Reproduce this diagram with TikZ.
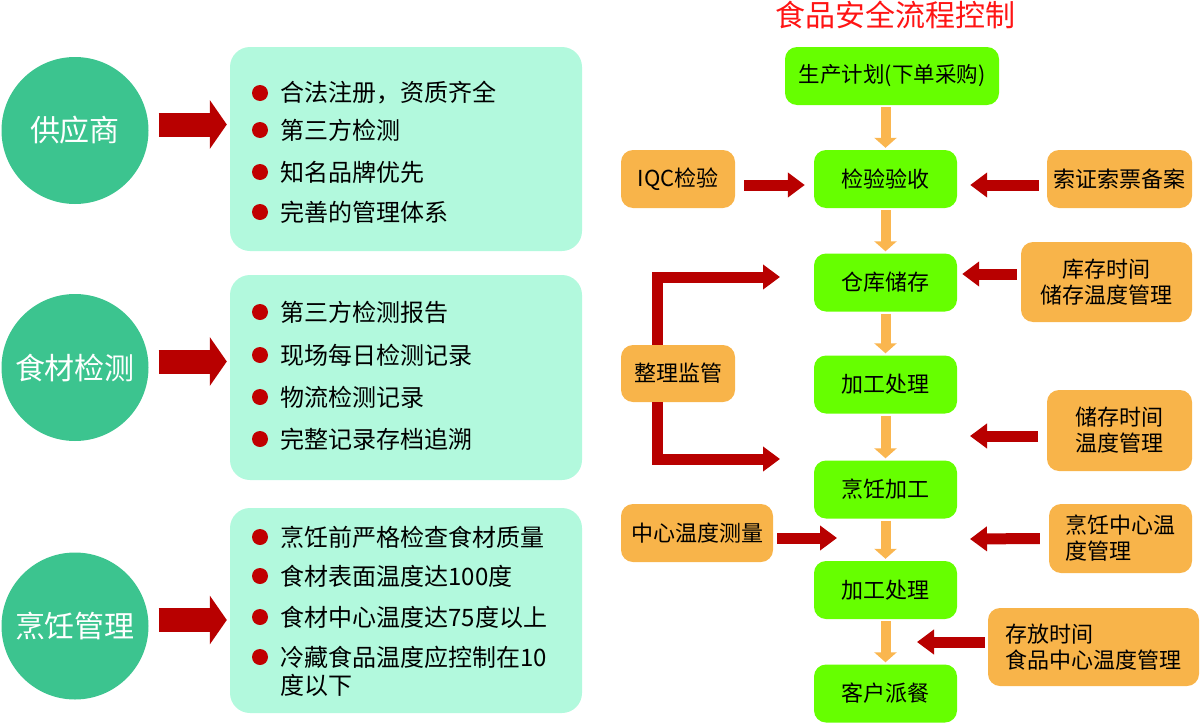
\documentclass[tikz,border=0pt]{standalone}
\usepackage{fontspec}
\setmainfont{Noto Sans CJK SC}
\usetikzlibrary{positioning}
\usetikzlibrary{arrows.meta}
\usetikzlibrary{calc}
\definecolor{topicgreen}{HTML}{3CC48F}
\definecolor{mint}{HTML}{B2F9DD}
\definecolor{dotred}{HTML}{C00000}
\definecolor{darkred}{HTML}{B80000}
\definecolor{stepgreen}{HTML}{66FF00}
\definecolor{sideorange}{HTML}{F8B44A}
\definecolor{floworange}{HTML}{FAB64F}
\definecolor{titlered}{HTML}{FF1414}
\tikzstyle{topic}=[circle,fill=topicgreen,minimum size=147pt,inner sep=0pt,text=white,font=\fontsize{30pt}{34pt}\selectfont]
\tikzstyle{listbox}=[rectangle,rounded corners=20pt,fill=mint,minimum width=352pt,inner sep=0pt]
\tikzstyle{dot}=[circle,fill=dotred,minimum size=16pt,inner sep=0pt]
\tikzstyle{item}=[inner sep=0pt,font=\fontsize{24pt}{28pt}\selectfont]
\tikzstyle{stepbox}=[rectangle,rounded corners=12pt,fill=stepgreen,minimum width=143pt,minimum height=58pt,inner sep=0pt,font=\fontsize{22pt}{26pt}\selectfont]
\tikzstyle{sidebox}=[rectangle,rounded corners=12pt,fill=sideorange,minimum height=58pt,inner sep=0pt,font=\fontsize{22pt}{26pt}\selectfont]
\tikzstyle{flow} = [draw=floworange,line width=10pt,-{Triangle[width=22pt,length=10pt]}]
\tikzstyle{feed} = [draw=darkred,line width=11pt,-{Triangle[width=24pt,length=17pt]}]
\tikzstyle{bigarrow} = [draw=darkred,line width=24pt,-{Triangle[width=48pt,length=17pt]}]

\begin{document}
\begin{tikzpicture}[x=1pt,y=-1pt]
    \useasboundingbox (0,0) rectangle (1200,723);
    % left half: topics and their lists
    \foreach \pos/\name/\label in {{(75,130.5)/sup/供应商}, {(75,367.5)/mat/食材检测}, {(75,626)/cookm/烹饪管理}}
        \node[topic] (\name) at \pos {\label};

    \node[listbox, minimum height=204pt] (boxA) at (406,149) {};
    \node[listbox, minimum height=205pt] (boxB) at (406,377.5) {};
    \node[listbox, minimum height=205pt] (boxC) at (406,610.5) {};

    \foreach \c/\b in {sup/boxA, mat/boxB, cookm/boxC}
        \draw[bigarrow] ([xshift=10pt,yshift=6pt]\c.east) -- ([xshift=-3pt,yshift=6pt]\c.east -| \b.west);

    \foreach \y/\name/\txt in {93/a1/合法注册，资质齐全, 130/a2/第三方检测, 172/a3/知名品牌优先, 212/a4/完善的管理体系,
        312/b1/第三方检测报告, 355/b2/现场每日检测记录, 397/b3/物流检测记录, 439/b4/完整记录存档追溯,
        537/c1/烹饪前严格检查食材质量, 576/c2/食材表面温度达100度, 617/c3/食材中心温度达75度以上, 657/c4/冷藏食品温度应控制在10} {
        \node[dot] (d\name) at (260,\y) {};
        \node[item, right=12pt of d\name] (\name) {\txt};
    }
    \node[item, anchor=west] (c4b) at ([yshift=-28pt]c4.west) {度以下};

    % right half: the flow
    \node[text=titlered, font=\fontsize{30pt}{34pt}\selectfont] (title) at (895,15) {食品安全流程控制};

    \node[stepbox, minimum width=214pt, font=\fontsize{21.5pt}{25pt}\selectfont] (plan) at (892,76) {生产计划(下单采购)};
    \foreach \pos/\name/\label in {{(885.5,179)/check/检验验收}, {(885.5,282.5)/store/仓库储存}, {(885.5,384.5)/proc1/加工处理},
        {(885.5,489.5)/cook2/烹饪加工}, {(885.5,590)/proc2/加工处理}, {(885.5,693.5)/serve/客户派餐}}
        \node[stepbox] (\name) at \pos {\label};

    \draw[flow] ([yshift=-2pt]plan.south -| check.north) -- ([yshift=2pt]check.north);
    \foreach \a/\b in {check/store, store/proc1, proc1/cook2, cook2/proc2, proc2/serve}
        \draw[flow] ([yshift=-2pt]\a.south) -- ([yshift=2pt]\b.north);

    % side notes
    \node[sidebox, minimum width=114pt] (iqc) at (678,179) {IQC检验};
    \node[sidebox, minimum width=145pt] (cert) at (1119.5,179) {索证索票备案};
    \node[sidebox, minimum width=171pt, minimum height=80pt, align=center] (stock) at (1106.5,282) {库存时间\\储存温度管理};
    \node[sidebox, minimum width=114pt, minimum height=57pt] (watch) at (678,373.5) {整理监管};
    \node[sidebox, minimum width=145pt, minimum height=81pt, align=center] (keep) at (1119.5,430.5) {储存时间\\温度管理};
    \node[sidebox, minimum width=152pt] (core) at (697,533) {中心温度测量};
    \node[sidebox, minimum width=143pt, minimum height=69pt, align=left] (ctemp) at (1120.5,538.5) {烹饪中心温\\度管理};
    \node[sidebox, minimum width=211pt, minimum height=78pt, align=left] (hold) at (1093.5,647) {存放时间\\食品中心温度管理};

    \coordinate (watchTop) at (780,277);
    \coordinate (watchBot) at (780,459);
    \coordinate (keepEnd) at (970,436);
    \coordinate (ctempEnd) at (970,539);
    \coordinate (coreEnd) at (837,538);
    \coordinate (holdEnd) at (917,642);

    \draw[feed] ([xshift=9pt,yshift=-6pt]iqc.east) -- ([xshift=-9pt,yshift=-6pt]check.west);
    \draw[feed] ([xshift=-8pt,yshift=-6pt]cert.west) -- ([xshift=13pt,yshift=-6pt]check.east);
    \draw[feed] ([xshift=-4pt,yshift=8pt]stock.west) -- ([xshift=5pt,yshift=8pt]stock.west -| store.east);
    \draw[feed] ($(keep.west |- keepEnd)+(-9pt,0)$) -- (keepEnd);
    \draw[feed] ([xshift=-9pt]ctemp.west) -- (ctempEnd);
    \draw[feed] ($(core.east |- coreEnd)+(4pt,0)$) -- (coreEnd);
    \draw[feed] ($(hold.west |- holdEnd)+(-3pt,0)$) -- (holdEnd);
    \draw[feed] ([xshift=-21pt]watch.north) |- (watchTop);
    \draw[feed] ([xshift=-21pt]watch.south) |- (watchBot);
\end{tikzpicture}
\end{document}
